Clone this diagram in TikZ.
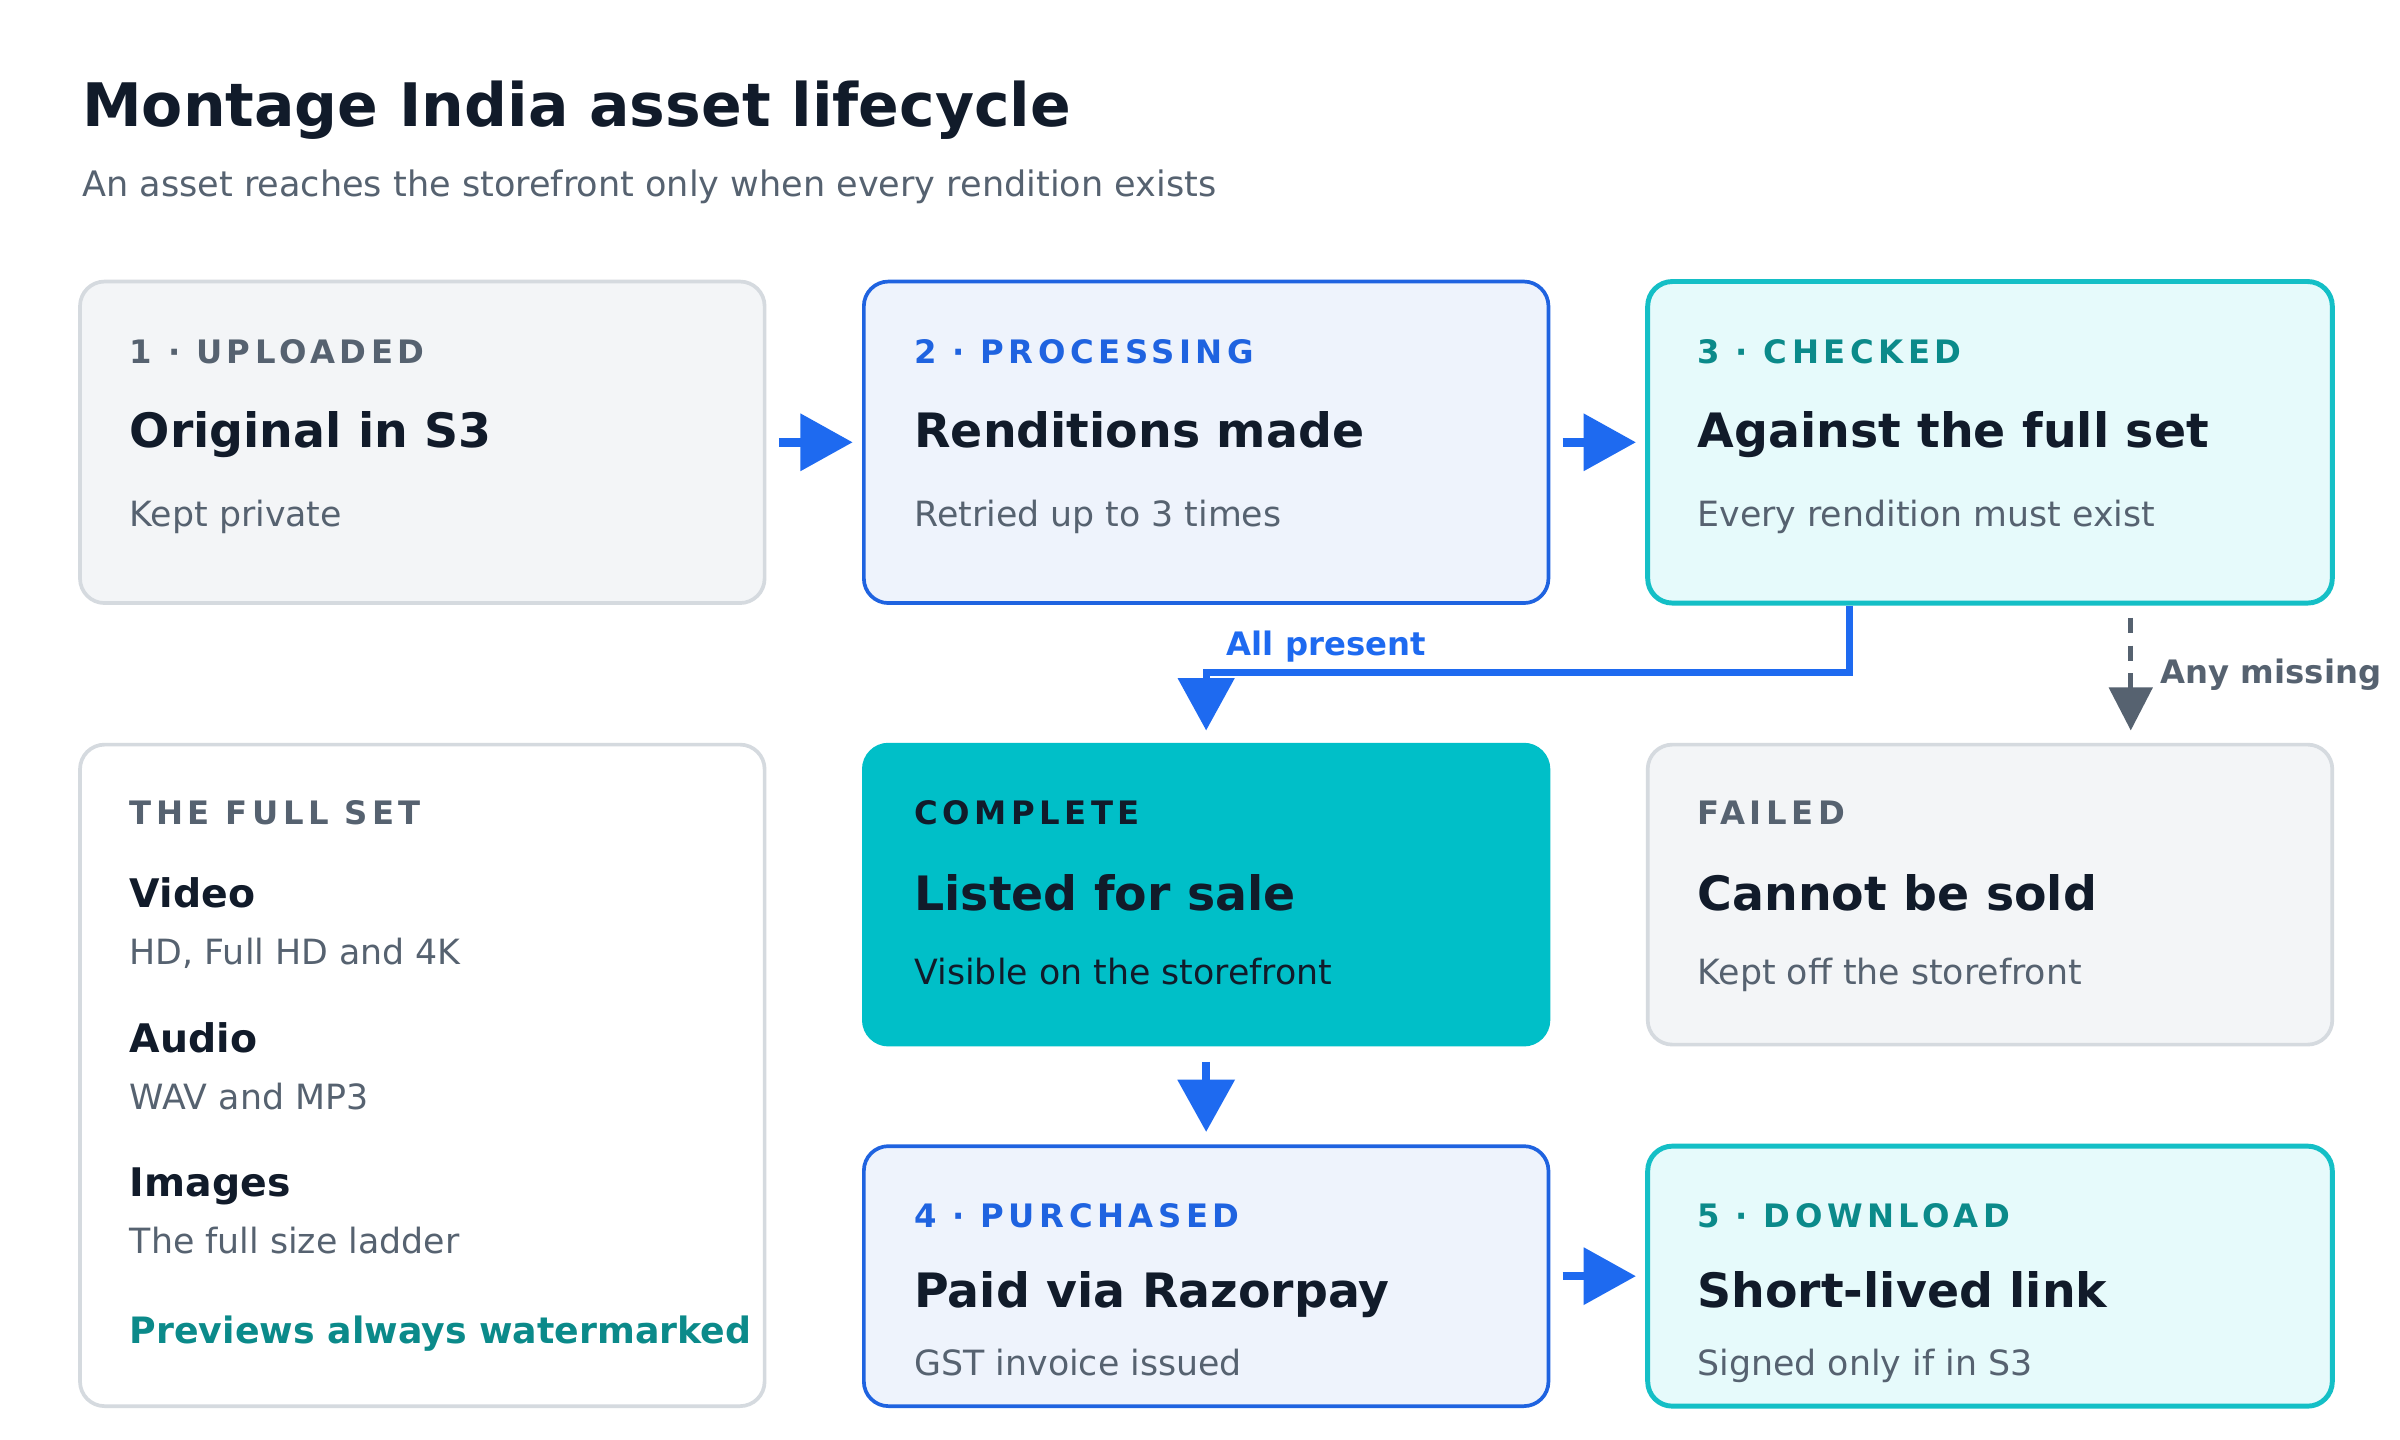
\documentclass[tikz,border=0pt]{standalone}
\usepackage{fontspec}
\setmainfont{DejaVu Sans}
\newfontfamily\capsfont[LetterSpace=14]{DejaVu Sans}
\usetikzlibrary{arrows.meta}
\definecolor{ink}{HTML}{111B2A}
\definecolor{muted}{HTML}{566270}
\definecolor{greyfill}{HTML}{F3F5F7}
\definecolor{greyline}{HTML}{D5DADF}
\definecolor{bluefill}{HTML}{EEF3FC}
\definecolor{blueline}{HTML}{1F63E0}
\definecolor{flow}{HTML}{1E6AF0}
\definecolor{tealfill}{HTML}{E6FAFB}
\definecolor{tealline}{HTML}{14BFC6}
\definecolor{tealtext}{HTML}{0B8A8A}
\definecolor{done}{HTML}{00BFC8}
\tikzset{
  box/.style={rounded corners=8pt, line width=1.2pt, minimum width=222.5pt, inner sep=0pt},
  greybox/.style={box, draw=greyline, fill=greyfill},
  bluebox/.style={box, draw=blueline, fill=bluefill},
  tealbox/.style={box, draw=tealline, fill=tealfill, line width=1.6pt},
  txt/.style={anchor=base west, inner sep=0pt},
  tag/.style={txt, font=\capsfont\bfseries\fontsize{10.5}{12}\selectfont},
  head/.style={txt, text=ink, font=\bfseries\fontsize{15.4}{19}\selectfont},
  item/.style={txt, text=ink, font=\bfseries\fontsize{12.8}{15}\selectfont},
  note/.style={txt, text=muted, font=\fontsize{11.3}{14}\selectfont},
  flowarrow/.style={draw=flow, line width=2.8pt, -{Triangle[width=18pt,length=17pt]}},
}
\begin{document}
\begin{tikzpicture}[x=0.5pt, y=-0.5pt]
  \useasboundingbox[fill=white] (0,0) rectangle (1560,936);

  % Title
  \node[txt, text=ink, font=\bfseries\fontsize{19.5}{24}\selectfont] (title) at (53,82) {Montage India asset lifecycle};
  \node[txt, text=muted, font=\fontsize{11.4}{14}\selectfont] (subtitle) at (53,128) {An asset reaches the storefront only when every rendition exists};

  % Boxes
  \node[greybox, minimum height=104.5pt] (up) at (274.5,287.5) {};
  \node[bluebox, minimum height=104.5pt] (proc) at (784,287.5) {};
  \node[tealbox, minimum height=104.5pt] (check) at (1293.5,287.5) {};
  \node[box, draw=greyline, fill=white, minimum height=215pt] (set) at (274.5,699) {};
  \node[box, draw=done, fill=done, minimum height=97.5pt] (done) at (784,581.5) {};
  \node[greybox, minimum height=97.5pt] (fail) at (1293.5,581.5) {};
  \node[bluebox, minimum height=84.5pt] (buy) at (784,829.5) {};
  \node[tealbox, minimum height=84.5pt] (get) at (1293.5,829.5) {};

  % Box texts
  \node[tag, text=muted] (upT) at (84,236) {1 · UPLOADED};
  \node[head] (upH) at (84,291) {Original in S3};
  \node[note] (upN) at (84,342) {Kept private};
  \node[tag, text=blueline] (procT) at (594,236) {2 · PROCESSING};
  \node[head] (procH) at (594,291) {Renditions made};
  \node[note] (procN) at (594,342) {Retried up to 3 times};
  \node[tag, text=tealtext] (checkT) at (1103,236) {3 · CHECKED};
  \node[head] (checkH) at (1103,291) {Against the full set};
  \node[note] (checkN) at (1103,342) {Every rendition must exist};

  \node[tag, text=muted] (setT) at (84,536) {THE FULL SET};
  \node[item] (setV) at (84,590) {Video};
  \node[note] (setVN) at (84,627) {HD, Full HD and 4K};
  \node[item] (setA) at (84,684) {Audio};
  \node[note] (setAN) at (84,721) {WAV and MP3};
  \node[item] (setI) at (84,778) {Images};
  \node[note] (setIN) at (84,815) {The full size ladder};
  \node[item, text=tealtext, font=\bfseries\fontsize{11.8}{14}\selectfont] (setP) at (84,873) {Previews always watermarked};

  \node[tag, text=ink] (doneT) at (594,536) {COMPLETE};
  \node[head] (doneH) at (594,592) {Listed for sale};
  \node[note, text=ink] (doneN) at (594,640) {Visible on the storefront};
  \node[tag, text=muted] (failT) at (1103,536) {FAILED};
  \node[head] (failH) at (1103,592) {Cannot be sold};
  \node[note] (failN) at (1103,640) {Kept off the storefront};

  \node[tag, text=blueline] (buyT) at (594,798) {4 · PURCHASED};
  \node[head] (buyH) at (594,850) {Paid via Razorpay};
  \node[note] (buyN) at (594,894) {GST invoice issued};
  \node[tag, text=tealtext] (getT) at (1103,798) {5 · DOWNLOAD};
  \node[head] (getH) at (1103,850) {Short-lived link};
  \node[note] (getN) at (1103,894) {Signed only if in S3};

  % Connectors
  \draw[flowarrow, shorten <=4pt, shorten >=3pt] (up.east) -- (proc.west);
  \draw[flowarrow, shorten <=4pt, shorten >=3pt] (proc.east) -- (check.west);
  \draw[flowarrow, shorten <=4pt, shorten >=3pt] (buy.east) -- (get.west);
  \draw[flowarrow, shorten <=5pt, shorten >=4pt] (done.south) -- (buy.north);
  \draw[flowarrow, line width=2.2pt, shorten >=4pt] (check.south -| 1202,0) |- (784,437) -- (done.north);
  \node[anchor=base, inner sep=0pt, text=flow, font=\bfseries\fontsize{10.5}{12}\selectfont] (allp) at (862,426) {All present};
  \draw[draw=muted, line width=1.6pt, dash pattern=on 5pt off 4pt, -{Triangle[width=14pt,length=14pt]}, shorten <=4pt, shorten >=4pt] (check.south -| 1385,0) -- (fail.north -| 1385,0);
  \node[txt, text=muted, font=\bfseries\fontsize{10.5}{12}\selectfont] (anym) at (1404,444) {Any missing};
\end{tikzpicture}
\end{document}
